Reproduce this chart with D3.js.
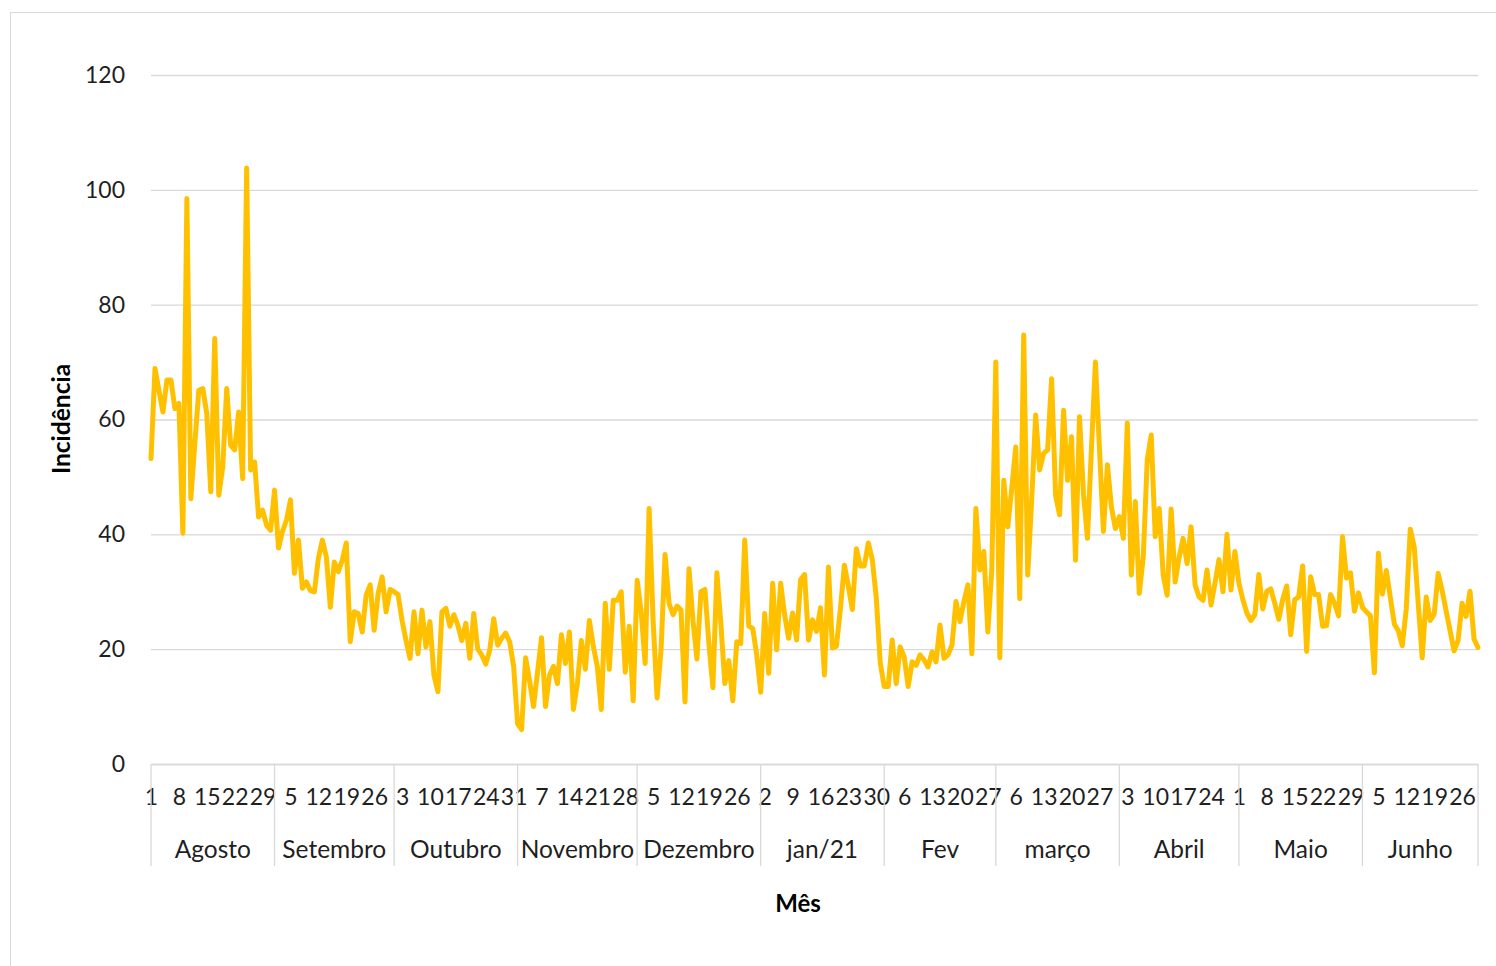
<!DOCTYPE html>
<html><head><meta charset="utf-8">
<script src="https://cdn.jsdelivr.net/npm/d3@7"></script>
<style>
html,body{margin:0;padding:0;background:#fff;}
svg{display:block;font-family:Lato,"Open Sans",sans-serif;}
</style></head>
<body><svg id="c" width="1496" height="966"></svg>
<script>
const months = ["Agosto","Setembro","Outubro","Novembro","Dezembro","jan/21","Fev","março","Abril","Maio","Junho"];
const agosto = [53.2,68.9,65,61.3,66.9,66.9,61.9,62.8,40.2,98.5,46.2,55.8,65.1,65.4,61,47.4,74.1,46.8,51.7,65.4,55.5,54.7,61.3,49.7,103.8,51.2,52.6,43,44.2,41.6,40.7];
const setembro = [47.7,37.6,40.5,42.5,46,33.2,39,30.6,31.7,30.2,30,35.8,39,36.1,27.3,35.2,33.5,35.5,38.5,21.3,26.5,26.2,23,29.4,31.2,23.3,29.7,32.6,26.5,30.4];
const outubro = [30,29.5,25,21.5,18.4,26.5,19.2,26.8,20.4,24.8,15.5,12.6,26.5,27.1,24,26,24.2,21.5,24.5,18.4,26.2,20,19,17.4,19.8,25.3,20.7,21.9,22.8,21.3,17];
const novembro = [7,6,18.5,14.5,10,16,22,10,15.5,17,14,22.5,17.5,23,9.5,14,21.5,16.5,25,20.5,17,9.5,28,16.5,28.5,28.5,30,16,24,11];
const dezembro = [32,26.5,17.5,44.5,25,11.5,20,36.5,28,26,27.5,26.8,10.8,34,25,18.3,30,30.4,21,13.3,33.3,24.5,14,18,11,21.3,21,39,24,23.6,19];
const janeiro = [12.5,26.2,15.8,31.5,19.9,31.5,26,21.9,26.3,21.6,32.1,33,21.6,25.1,23.1,27.2,15.5,34.3,20.2,20.5,27,34.6,31,26.9,37.5,34.5,34.5,38.5,35.6,29,17.6];
const fevereiro = [13.5,13.5,21.6,14,20.4,18.7,13.5,17.8,17.2,19,18.1,16.9,19.5,17.8,24.2,18.4,19,20.7,28.3,24.8,28.3,31.2,19.2,44.5,33.8,37,23,34];
const marco = [70,18.5,49.4,41.3,48,55.2,28.8,74.7,32.9,46,60.8,51.2,54.1,54.7,67.1,46.8,43.4,61.6,49.4,57,35.5,60.5,47,39.3,55,70,55,40.5,52.1,44.8,41];
const abril = [43.1,39.3,59.4,32.9,45.7,29.7,36,53,57.3,39.6,44.5,32.9,29.4,44.4,31.7,36,39.3,34.9,41.3,31.2,29.1,28.5,33.8,27.7,31.5,35.6,30,40,30.3,37];
const maio = [31.5,28.6,26.3,25,26,33,27,30.1,30.5,28,25.2,28.7,31,22.5,28.6,29.1,34.5,19.6,32.6,29.5,29.5,24,24.1,29.5,28,25.8,39.6,32.4,33.3,26.6,29.8];
const junho = [27.3,26.5,25.8,15.9,36.7,29.6,33.7,29,24.4,23.2,20.6,27,40.9,37.8,28,18.5,29.1,25,26.1,33.2,30.2,26.7,23.2,19.7,21.5,28,25.7,30.1,21.8,20.3];
const dayLabels = [[1,8,15,22,29],[5,12,19,26],[3,10,17,24,31],[7,14,21,28],[5,12,19,26],[2,9,16,23,30],[6,13,20,27],[6,13,20,27],[3,10,17,24],[1,8,15,22,29],[5,12,19,26]];
const yTicks = [0,20,40,60,80,100,120];
const seriesByMonth = [agosto,setembro,outubro,novembro,dezembro,janeiro,fevereiro,marco,abril,maio,junho];

const data = [];
seriesByMonth.forEach((arr,m)=>arr.forEach((v,j)=>data.push({m, d:j+1, v, key:m+"-"+(j+1)})));

const svg = d3.select("#c");
const L = 151, R = 1478, T = 75, B = 764;
const textCol = "#1f1f1f", gridCol = "#d9d9d9";

svg.append("rect").attr("x",10.5).attr("y",12.5).attr("width",1500).attr("height",970)
  .attr("fill","#fff").attr("stroke","#d9d9d9").attr("stroke-width",1);

const x = d3.scalePoint().domain(data.map(d=>d.key)).range([L,R]).padding(0);
const y = d3.scaleLinear().domain([0,120]).range([B,T]);

// y axis with gridlines
const ya = svg.append("g").attr("transform",`translate(${L},0)`)
  .call(d3.axisLeft(y).tickValues(yTicks).tickSize(-(R-L)).tickPadding(26).tickFormat(d3.format("d")));
ya.select(".domain").remove();
ya.selectAll(".tick line").attr("stroke",gridCol).attr("stroke-width",1.3);
ya.selectAll(".tick text").attr("fill",textCol).attr("font-size",23).attr("font-family","Lato,sans-serif");

// x axis: day labels
const tickKeys = [];
dayLabels.forEach((arr,m)=>arr.forEach(d=>tickKeys.push(m+"-"+d)));
const xa = svg.append("g").attr("transform",`translate(0,${B})`)
  .call(d3.axisBottom(x).tickValues(tickKeys).tickSize(0).tickPadding(25).tickFormat(k=>k.split("-")[1]));
xa.select(".domain").attr("stroke",gridCol).attr("stroke-width",1.3);
xa.selectAll(".tick text").attr("fill",textCol).attr("font-size",23).attr("font-family","Lato,sans-serif");

// month separators and labels
const bounds = [L];
seriesByMonth.forEach((arr,m)=>{ if(m>0) bounds.push(x(m+"-1")); });
bounds.push(R);
svg.append("g").selectAll("line").data(bounds).join("line")
  .attr("x1",d=>d).attr("x2",d=>d).attr("y1",B).attr("y2",866)
  .attr("stroke",gridCol).attr("stroke-width",1.3);
svg.append("g").selectAll("text").data(months).join("text")
  .attr("x",(d,i)=>(bounds[i]+bounds[i+1])/2).attr("y",858)
  .attr("text-anchor","middle").attr("fill",textCol).attr("font-size",24.5)
  .text(d=>d);

// line
svg.append("path").datum(data)
  .attr("fill","none").attr("stroke","#FFC000").attr("stroke-width",5)
  .attr("stroke-linejoin","round").attr("stroke-linecap","round")
  .attr("d",d3.line().x(d=>x(d.key)).y(d=>y(d.v)));

// titles
svg.append("text").attr("transform","translate(70,419) rotate(-90)")
  .attr("text-anchor","middle").attr("font-weight","bold").attr("font-size",24.5).attr("fill","#000")
  .text("Incidência");
svg.append("text").attr("x",798).attr("y",912).attr("text-anchor","middle")
  .attr("font-weight","bold").attr("font-size",24).attr("fill","#000").text("Mês");
</script></body></html>
